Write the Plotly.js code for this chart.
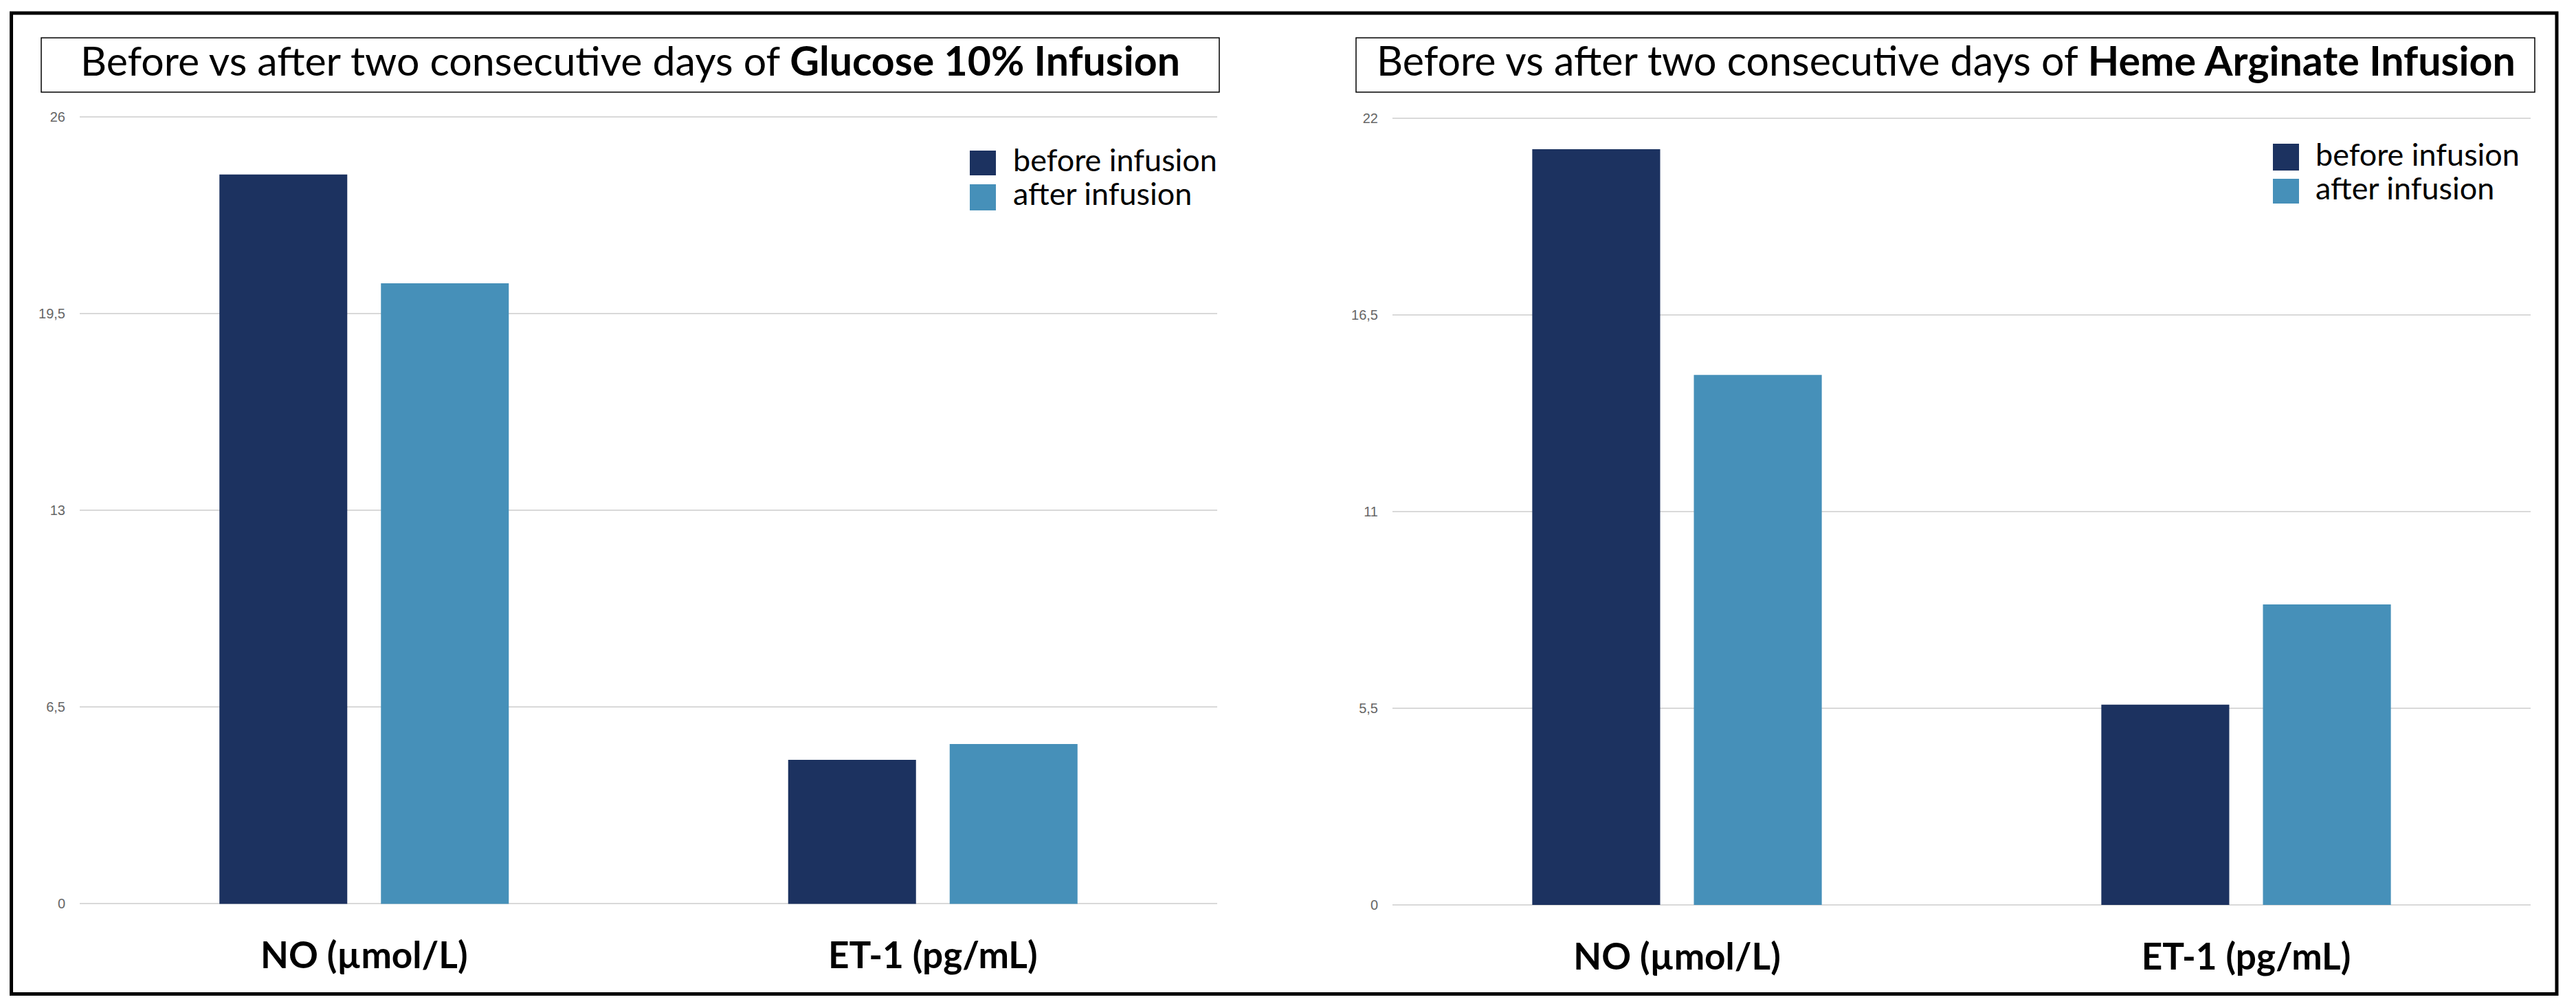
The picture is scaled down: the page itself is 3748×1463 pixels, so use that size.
<!DOCTYPE html>
<html>
<head>
<meta charset="utf-8">
<script src="https://cdn.plot.ly/plotly-3.0.1.min.js"></script>
<style>
html, body { margin: 0; padding: 0; background: #ffffff; }
#chart { width: 3748px; height: 1463px; }
</style>
</head>
<body>
<div id="chart"></div>
<script>
// ---------------- data ----------------
const categories = ['NO (µmol/L)', 'ET-1 (pg/mL)'];
const seriesNames = ['before infusion', 'after infusion'];
const glucoseBefore = [24.1, 4.76];
const glucoseAfter = [20.5, 5.28];
const hemeBefore = [21.13, 5.6];
const hemeAfter = [14.82, 8.4];
const glucoseTickVals = [0, 6.5, 13, 19.5, 26];
const glucoseTickText = ['0', '6,5', '13', '19,5', '26'];
const hemeTickVals = [0, 5.5, 11, 16.5, 22];
const hemeTickText = ['0', '5,5', '11', '16,5', '22'];
const titlePrefix = 'Before vs after two consecutive days of ';
const panelTitles = ['Glucose 10% Infusion', 'Heme Arginate Infusion'];

// ---------------- style ----------------
const colors = ['#1c3260', '#4690b9'];
const W = 3748, H = 1463;
const FAM = 'Lato, "Open Sans", sans-serif';
const X = p => p / W;
const Y = p => 1 - p / H;

const ctx = document.createElement('canvas').getContext('2d');
function em(txt, weight) {
  ctx.font = weight + ' 100px ' + FAM;
  return ctx.measureText(txt).width / 100;
}

const titleSize1 = 1604 / (em(titlePrefix, 'normal') + em(panelTitles[0], 'bold'));
const titleSize2 = 1663 / (em(titlePrefix, 'normal') + em(panelTitles[1], 'bold'));
const catSize = (299 / em(categories[0], 'bold') + 307 / em(categories[1], 'bold')) / 2;
const legSize = 297 / em(seriesNames[0], 'normal');

// y-axis domain from pixel positions of value range, with small padding
function yDomain(px0, pxTop, vmax, pad) {
  const k = (px0 - pxTop) / vmax;
  return { domain: [Y(px0 + pad * k), Y(pxTop - pad * k)], range: [-pad, vmax + pad] };
}
const yd1 = yDomain(1314.5, 170, 26, 0.1);
const yd2 = yDomain(1316, 171.8, 22, 0.1);

const traces = [
  { type: 'bar', x: categories, y: glucoseBefore, name: seriesNames[0], marker: { color: colors[0] }, xaxis: 'x', yaxis: 'y' },
  { type: 'bar', x: categories, y: glucoseAfter, name: seriesNames[1], marker: { color: colors[1] }, xaxis: 'x', yaxis: 'y' },
  { type: 'bar', x: categories, y: hemeBefore, name: seriesNames[0], marker: { color: colors[0] }, xaxis: 'x2', yaxis: 'y2' },
  { type: 'bar', x: categories, y: hemeAfter, name: seriesNames[1], marker: { color: colors[1] }, xaxis: 'x2', yaxis: 'y2' }
].map(t => Object.assign(t, { showlegend: false, hoverinfo: 'skip' }));

const yCommon = {
  tickmode: 'array', showgrid: true, gridcolor: '#d9d9d9', gridwidth: 2,
  zeroline: false, showline: false, ticks: '',
  tickfont: { family: '"Liberation Sans", Arial, sans-serif', size: 20, color: '#666666' },
  ticklabelstandoff: 20, fixedrange: true
};
const xCommon = {
  type: 'category', showgrid: false, zeroline: false, showline: false, ticks: '',
  tickfont: { family: FAM, size: catSize, color: '#000000', weight: 'bold' },
  ticklabelstandoff: 35, fixedrange: true
};

const shapes = [
  { type: 'rect', xref: 'paper', yref: 'paper', x0: X(16.5), x1: X(3720), y0: Y(19), y1: Y(1445.5), line: { color: '#000', width: 5 } },
  { type: 'rect', xref: 'paper', yref: 'paper', x0: X(60), x1: X(1774), y0: Y(55), y1: Y(134), line: { color: '#000', width: 1.5 } },
  { type: 'rect', xref: 'paper', yref: 'paper', x0: X(1973), x1: X(3688), y0: Y(55), y1: Y(134), line: { color: '#000', width: 1.5 } },
  // legend swatches
  { type: 'rect', xref: 'paper', yref: 'paper', x0: X(1411), x1: X(1449), y0: Y(219), y1: Y(255), fillcolor: colors[0], line: { width: 0 } },
  { type: 'rect', xref: 'paper', yref: 'paper', x0: X(1411), x1: X(1449), y0: Y(268), y1: Y(306), fillcolor: colors[1], line: { width: 0 } },
  { type: 'rect', xref: 'paper', yref: 'paper', x0: X(3307), x1: X(3345), y0: Y(209), y1: Y(248), fillcolor: colors[0], line: { width: 0 } },
  { type: 'rect', xref: 'paper', yref: 'paper', x0: X(3307), x1: X(3345), y0: Y(260), y1: Y(296), fillcolor: colors[1], line: { width: 0 } }
];

const ann = (x, yBase, text, size, xanchor) => ({
  xref: 'paper', yref: 'paper', x: X(x), y: Y(yBase - 0.387 * size),
  xanchor: xanchor, yanchor: 'middle', showarrow: false, text: text,
  font: { family: FAM, size: size, color: '#000000' }
});

const annotations = [
  ann(917, 110, titlePrefix + '<b>' + panelTitles[0] + '</b>', titleSize1, 'center'),
  ann(2831, 110, titlePrefix + '<b>' + panelTitles[1] + '</b>', titleSize2, 'center'),
  ann(1472, 249, seriesNames[0], legSize, 'left'),
  ann(1472, 298, seriesNames[1], legSize, 'left'),
  ann(3367, 241, seriesNames[0], legSize, 'left'),
  ann(3367, 290, seriesNames[1], legSize, 'left')
];

const layout = {
  width: W, height: H,
  margin: { l: 0, r: 0, t: 0, b: 0, pad: 0 },
  paper_bgcolor: '#ffffff', plot_bgcolor: 'rgba(0,0,0,0)',
  showlegend: false,
  barmode: 'group', bargap: 0.432, bargroupgap: 0.2085,
  xaxis: Object.assign({}, xCommon, { domain: [X(116), X(1771)], anchor: 'y' }),
  xaxis2: Object.assign({}, xCommon, { domain: [X(2026), X(3682)], anchor: 'y2' }),
  yaxis: Object.assign({}, yCommon, { domain: yd1.domain, range: yd1.range, tickvals: glucoseTickVals, ticktext: glucoseTickText, anchor: 'x' }),
  yaxis2: Object.assign({}, yCommon, { domain: yd2.domain, range: yd2.range, tickvals: hemeTickVals, ticktext: hemeTickText, anchor: 'x2' }),
  shapes: shapes,
  annotations: annotations
};

Plotly.newPlot('chart', traces, layout, { displayModeBar: false, staticPlot: true });
</script>
</body>
</html>
